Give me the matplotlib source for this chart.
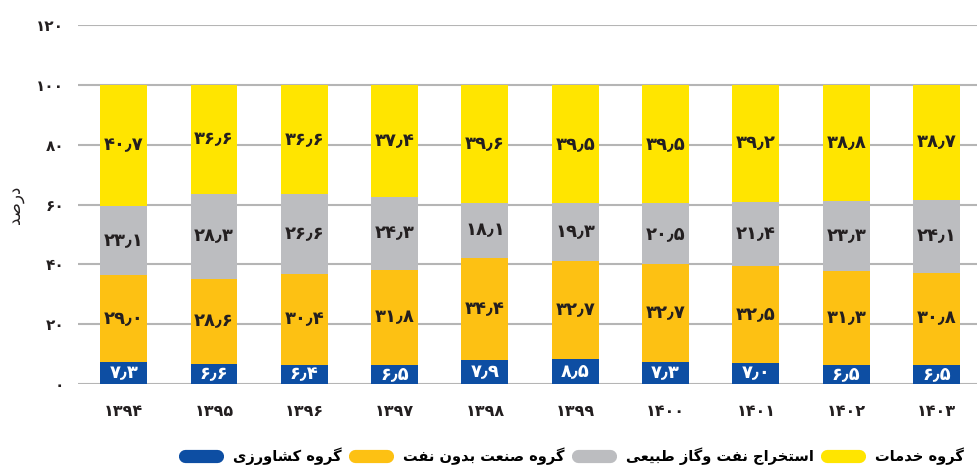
import matplotlib
matplotlib.use('Agg')
import matplotlib.pyplot as plt
from matplotlib.lines import Line2D
import numpy as np

years = ['1394', '1395', '1396', '1397', '1398', '1399', '1400', '1401', '1402', '1403']
agri = [7.3, 6.6, 6.4, 6.5, 7.9, 8.5, 7.3, 7.0, 6.5, 6.5]
industry = [29.0, 28.6, 30.4, 31.8, 34.4, 32.7, 32.7, 32.5, 31.3, 30.8]
oil_gas = [23.1, 28.3, 26.6, 24.3, 18.1, 19.3, 20.5, 21.4, 23.3, 24.1]
services = [40.7, 36.6, 36.6, 37.4, 39.6, 39.5, 39.5, 39.2, 38.8, 38.7]
y_ticks = [0, 20, 40, 60, 80, 100, 120]

names = ['گروه کشاورزی', 'گروه صنعت بدون نفت', 'استخراج نفت وگاز طبیعی', 'گروه خدمات']
colors = ['#0d4ea3', '#fdc113', '#bcbdc0', '#ffe500']
text_colors = ['white', '#231f20', '#231f20', '#231f20']

# presentation forms: isolated, final, initial, medial
FORMS = {
    'ا': ('\uFE8D', '\uFE8E', None, None),
    'ب': ('\uFE8F', '\uFE90', '\uFE91', '\uFE92'),
    'ت': ('\uFE95', '\uFE96', '\uFE97', '\uFE98'),
    'ج': ('\uFE9D', '\uFE9E', '\uFE9F', '\uFEA0'),
    'خ': ('\uFEA5', '\uFEA6', '\uFEA7', '\uFEA8'),
    'د': ('\uFEA9', '\uFEAA', None, None),
    'ر': ('\uFEAD', '\uFEAE', None, None),
    'ز': ('\uFEAF', '\uFEB0', None, None),
    'س': ('\uFEB1', '\uFEB2', '\uFEB3', '\uFEB4'),
    'ش': ('\uFEB5', '\uFEB6', '\uFEB7', '\uFEB8'),
    'ص': ('\uFEB9', '\uFEBA', '\uFEBB', '\uFEBC'),
    'ط': ('\uFEC1', '\uFEC2', '\uFEC3', '\uFEC4'),
    'ع': ('\uFEC9', '\uFECA', '\uFECB', '\uFECC'),
    'ف': ('\uFED1', '\uFED2', '\uFED3', '\uFED4'),
    'م': ('\uFEE1', '\uFEE2', '\uFEE3', '\uFEE4'),
    'ن': ('\uFEE5', '\uFEE6', '\uFEE7', '\uFEE8'),
    'ه': ('\uFEE9', '\uFEEA', '\uFEEB', '\uFEEC'),
    'و': ('\uFEED', '\uFEEE', None, None),
    'ی': ('\uFBFC', '\uFBFD', '\uFBFE', '\uFBFF'),
    'ک': ('\uFB8E', '\uFB8F', '\uFB90', '\uFB91'),
    'گ': ('\uFB92', '\uFB93', '\uFB94', '\uFB95'),
}


def shape(text):
    # join letters and flip for left-to-right drawing
    out = []
    for i, ch in enumerate(text):
        if ch not in FORMS:
            out.append(ch)
            continue
        iso, fin, ini, med = FORMS[ch]
        prev = text[i - 1] if i > 0 else ''
        nxt = text[i + 1] if i + 1 < len(text) else ''
        jp = prev in FORMS and FORMS[prev][2] is not None
        jn = ini is not None and nxt in FORMS
        if jp and jn:
            out.append(med)
        elif jp:
            out.append(fin)
        elif jn:
            out.append(ini)
        else:
            out.append(iso)
    return ''.join(reversed(out))


def fa(s):
    s = str(s)
    return s.translate(str.maketrans('0123456789.', '۰۱۲۳۴۵۶۷۸۹٫'))


plt.rcParams['font.family'] = ['DejaVu Sans']
plt.rcParams['font.weight'] = 'bold'

fig = plt.figure(figsize=(9.77, 4.65), dpi=100)
ax = fig.add_axes([0.08, 0.174, 0.92, 0.772])

series = [agri, industry, oil_gas, services]
x = np.arange(len(years))
bottom = np.zeros(len(years))
for vals, col, tcol in zip(series, colors, text_colors):
    vals = np.array(vals)
    ax.bar(x, vals, bottom=bottom, width=0.52, color=col, zorder=3)
    for xi, b, v in zip(x, bottom, vals):
        ax.text(xi, b + v / 2, fa('%.1f' % v), ha='center', va='center',
                color=tcol, fontsize=13, fontweight='bold', zorder=4)
    bottom += vals

ax.set_xlim(-0.504, 9.448)
ax.set_ylim(0, 120)
ax.set_yticks(y_ticks)
ax.set_yticklabels([fa(t) for t in y_ticks], fontsize=11, color='#231f20')
ax.set_xticks(x)
ax.set_xticklabels([fa(y) for y in years], fontsize=11.5, color='#231f20')
ax.tick_params(axis='both', length=0)
ax.tick_params(axis='y', pad=10)
ax.tick_params(axis='x', pad=14)
ax.yaxis.grid(True, color='#b5b5b5', linewidth=1.5, zorder=0)
ax.set_axisbelow(True)
for sp in ax.spines.values():
    sp.set_visible(False)

ax.set_ylabel(shape('درصد'), fontsize=12, rotation=90, color='#231f20', va='center')
ax.yaxis.set_label_coords(-0.07, 0.5)

handles = [Line2D([0], [0], color=c, lw=9.5, solid_capstyle='round') for c in colors]
fig.legend(handles, [shape(n) for n in names], ncol=4, loc='center right',
           bbox_to_anchor=(1.0, 0.018), frameon=False, fontsize=10.5,
           handlelength=2.2, columnspacing=0.9, handletextpad=1.1)

fig.savefig('out.png', dpi=100)
